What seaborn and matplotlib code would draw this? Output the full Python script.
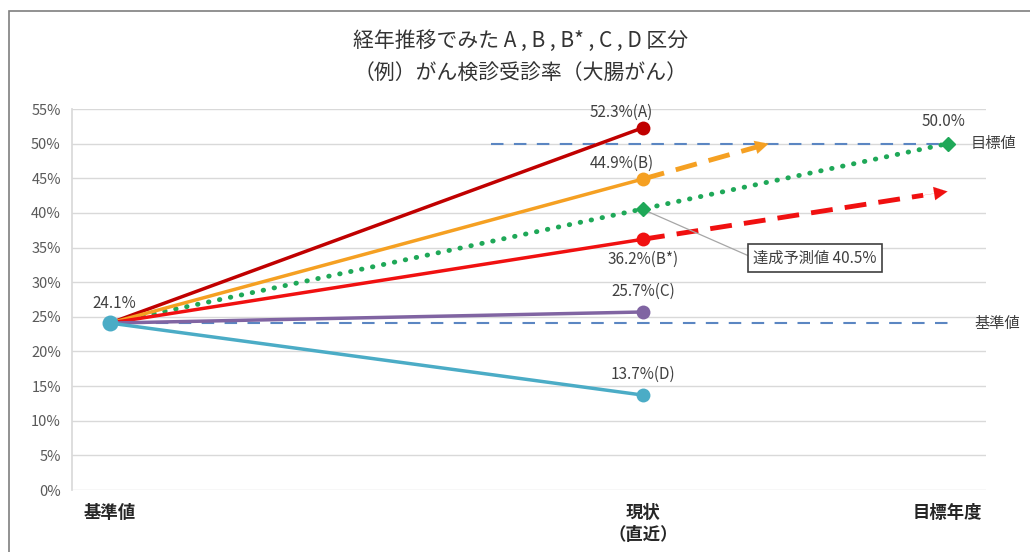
import numpy as np
import pandas as pd
import matplotlib.pyplot as plt
import matplotlib.patches as mpatches
from matplotlib.ticker import PercentFormatter
import seaborn as sns

# data ---------
cat_labels = ['基準値', '現状\n（直近）', '目標年度']
cat_pos = [0, 7, 11]          # 12 category slots, only three labelled
series = ['A', 'B', 'B*', 'C', 'D']
base_value = 24.1
current_values = [52.3, 44.9, 36.2, 25.7, 13.7]
target_value = 50.0
forecast_value = 40.5
# projected ends of the dashed arrows (B reaches target, B* continues trend)
proj_x = [8.65, 11]
proj_y = [50.0, 43.1]
proj_series = ['B', 'B*']

colors = {'A': '#C00000', 'B': '#F5A022', 'B*': '#F01010', 'C': '#8064A2', 'D': '#4BACC6'}
green = '#1FA858'
ref_blue = '#5B86C2'
txt = '#404040'

sns.set_theme(style='white')
plt.rcParams['font.family'] = ['Noto Sans CJK JP', 'DejaVu Sans']

fig = plt.figure(figsize=(10.3, 5.52), dpi=100)
ax = fig.add_axes([0.0699, 0.1123, 0.887, 0.6902])

# reference dashed lines
ax.plot([5, 11], [target_value, target_value], color=ref_blue, lw=1.5, dashes=(6, 5), zorder=1)
ax.plot([0, 11], [base_value, base_value], color=ref_blue, lw=1.5, dashes=(6, 5), zorder=1)

# projection arrows
for s, x1, y1 in zip(proj_series, proj_x, proj_y):
    i = series.index(s)
    x0, y0 = cat_pos[1], current_values[i]
    frac = 0.92
    ax.plot([x0, x0 + (x1 - x0) * frac], [y0, y0 + (y1 - y0) * frac],
            color=colors[s], lw=3.5, dashes=(4.5, 2.5), zorder=2)
    ax.annotate('', xy=(x1, y1), xytext=(x0 + (x1 - x0) * 0.88, y0 + (y1 - y0) * 0.88),
                arrowprops=dict(arrowstyle='-|>', color=colors[s], lw=0.1,
                                mutation_scale=24, shrinkA=0, shrinkB=0), zorder=2)

# forecast dotted line
fc = pd.DataFrame({'x': [cat_pos[0], cat_pos[2]], 'y': [base_value, target_value]})
sns.lineplot(data=fc, x='x', y='y', ax=ax, color=green, lw=3.5, linestyle=(0, (0.1, 2.2)),
             dash_capstyle='round', zorder=3)
ax.plot([cat_pos[1]], [forecast_value], marker='D', color=green, ms=7.5, zorder=6)
ax.plot([cat_pos[2]], [target_value], marker='D', color=green, ms=7.5, zorder=6)

# series lines
for s, v in zip(series, current_values):
    df = pd.DataFrame({'x': [cat_pos[0], cat_pos[1]], 'y': [base_value, v]})
    sns.lineplot(data=df, x='x', y='y', ax=ax, color=colors[s], lw=2.5,
                 marker='o', markersize=10, markeredgewidth=0, zorder=5)
ax.plot([cat_pos[0]], [base_value], marker='o', color=colors['D'], ms=11.5, mew=0, zorder=7)

# labels
ax.text(cat_pos[0] + 0.05, base_value + 1.6, f'{base_value:.1f}%', ha='center', va='bottom',
        fontsize=11, color=txt)
offsets = {'A': (-0.28, 1.0, 'bottom'), 'B': (-0.28, 1.0, 'bottom'), 'B*': (0.0, -1.6, 'top'),
           'C': (0.0, 1.8, 'bottom'), 'D': (0.0, 1.8, 'bottom')}
for s, v in zip(series, current_values):
    dx, dy, va = offsets[s]
    ax.text(cat_pos[1] + dx, v + dy, f'{v:.1f}%({s})', ha='center', va=va, fontsize=11, color=txt)
ax.text(cat_pos[2] - 0.05, target_value + 1.9, f'{target_value:.1f}%', ha='center', va='bottom',
        fontsize=11, color=txt)
ax.text(11.3, target_value, '目標値', ha='left', va='center', fontsize=11, color=txt)
ax.text(11.35, base_value, '基準値', ha='left', va='center', fontsize=11, color=txt)

# callout
ax.plot([cat_pos[1], 8.45], [forecast_value, 33.5], color='#A6A6A6', lw=0.9, zorder=4)
ax.text(8.45, 33.5, f'達成予測値 {forecast_value:.1f}%', ha='left', va='center', fontsize=11,
        color=txt, zorder=8,
        bbox=dict(boxstyle='square,pad=0.35', fc='white', ec='#404040', lw=1.2))

# axes styling
ax.set_xlim(-0.5, 11.5)
ax.set_ylim(0, 55)
ax.set_yticks(np.arange(0, 56, 5))
ax.yaxis.set_major_formatter(PercentFormatter(decimals=0))
ax.set_xticks(cat_pos)
ax.set_xticklabels(cat_labels, fontsize=12.5, color='#262626', linespacing=1.3, fontweight='bold')
ax.tick_params(axis='y', labelsize=10.5, labelcolor='#595959', length=0, pad=8)
ax.tick_params(axis='x', length=0, pad=10)
ax.set_xlabel('')
ax.set_ylabel('')
ax.grid(axis='y', color='#D9D9D9', lw=1)
for sp in ['top', 'right', 'bottom']:
    ax.spines[sp].set_visible(False)
ax.spines['left'].set_color('#D9D9D9')

fig.text(0.505, 0.925, '経年推移でみた A , B , B* , C , D 区分', ha='center', va='center',
         fontsize=15, color='#333333')
fig.text(0.505, 0.868, '（例）がん検診受診率（大腸がん）', ha='center', va='center',
         fontsize=15, color='#333333')

# chart area border
fig.patches.append(mpatches.Rectangle((0.009, -0.05), 1.2, 1.03, transform=fig.transFigure,
                                      fill=False, ec='#7F7F7F', lw=1.2))

fig.savefig('out.png', dpi=100)
